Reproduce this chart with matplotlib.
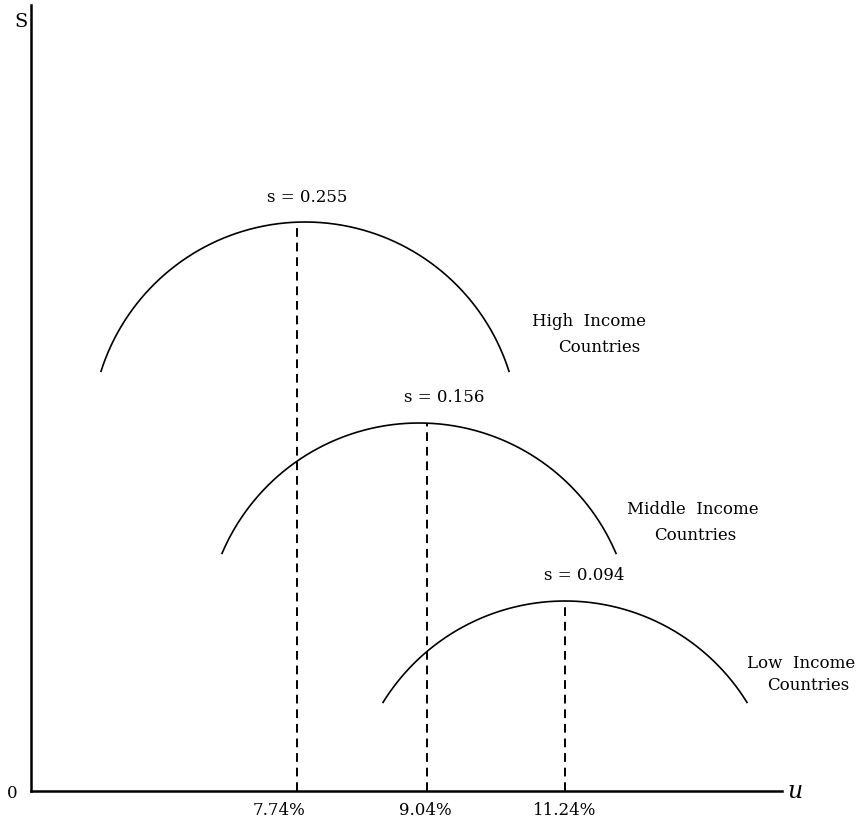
import numpy as np
import matplotlib
matplotlib.use("Agg")
import matplotlib.pyplot as plt

# schematic data (axis units are arbitrary, roughly one unit per pixel)
groups = ["High", "Middle", "Low"]
s_values = [0.255, 0.156, 0.094]
u_labels = ["7.74%", "9.04%", "11.24%"]
u_opt = [266, 396, 534]          # position of the optimum on the u axis
s_peak = [569, 368, 190]         # height of each curve's top
arc_center = [274, 388, 534]
arc_half = [204, 197, 182]
radius = 214

plt.rcParams["font.family"] = ["DejaVu Serif"]
plt.rcParams["mathtext.fontset"] = "dejavuserif"

fig = plt.figure(figsize=(8.64, 8.26), dpi=100)
ax = fig.add_axes([31 / 864, 35 / 826, 751 / 864, 786 / 826])
ax.set_xlim(0, 751)
ax.set_ylim(0, 786)

for sp in ["top", "right"]:
    ax.spines[sp].set_visible(False)
for sp in ["left", "bottom"]:
    ax.spines[sp].set_linewidth(1.8)

def arc_y(x, cx, top):
    return top - radius + np.sqrt(radius ** 2 - (x - cx) ** 2)

for i in range(3):
    cx, top, w = arc_center[i], s_peak[i], arc_half[i]
    xs = np.linspace(cx - w, cx + w, 400)
    ax.plot(xs, arc_y(xs, cx, top), color="black", lw=1.2)
    # dashed drop line from the top of the curve
    ax.plot([u_opt[i], u_opt[i]], [0, arc_y(u_opt[i], cx, top)],
            color="black", lw=1.4, dashes=(4.5, 3))

# s labels above the peaks
s_text_pos = [(276, 593), (413, 394), (553, 216)]
for (x, y), s in zip(s_text_pos, s_values):
    ax.text(x, y, f"s = {s:.3f}", ha="center", va="center", fontsize=12)

# group labels
name_pos = [((558, 469), (568, 444)), ((662, 281), (664, 256)), ((770, 128), (777, 106))]
for g, (p1, p2) in zip(groups, name_pos):
    ax.text(p1[0], p1[1], g + "  Income", ha="center", va="center", fontsize=12)
    ax.text(p2[0], p2[1], "Countries", ha="center", va="center", fontsize=12)

# axis labels
ax.set_xticks([248, 394, 534], u_labels)
ax.set_yticks([0], ["0"])
ax.tick_params(axis="both", length=0, labelsize=12)
ax.tick_params(axis="x", pad=8)
ax.tick_params(axis="y", pad=10)
ax.text(-10, 769, "S", ha="center", va="center", fontsize=14)
ax.text(756, 0, "$u$", ha="left", va="center", fontsize=17)

fig.savefig("out.png", dpi=100)
